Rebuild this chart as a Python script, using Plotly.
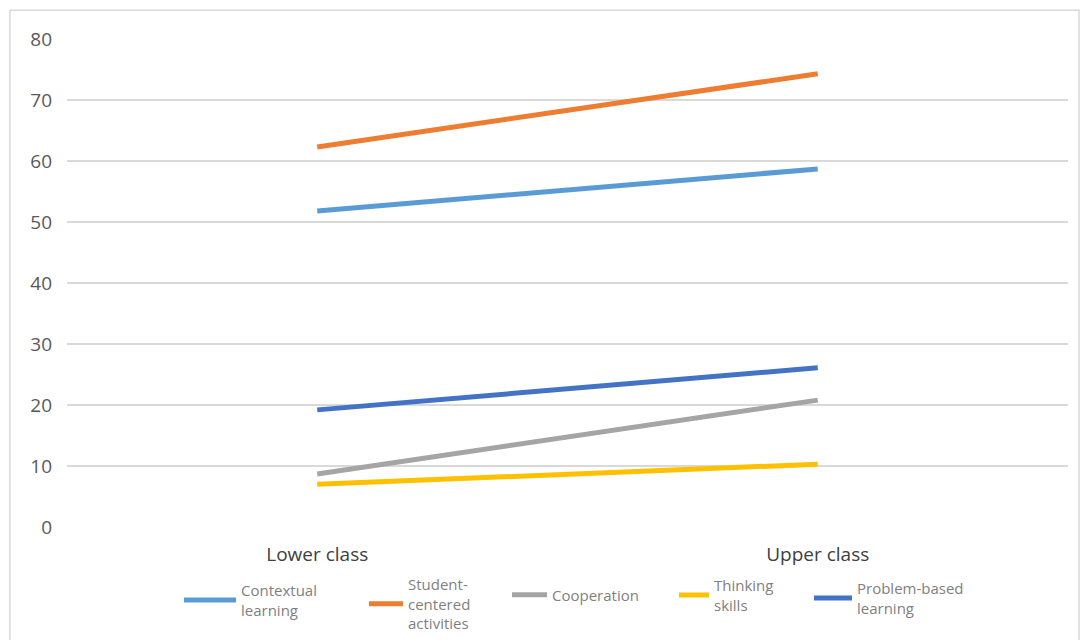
import plotly.graph_objects as go

categories = ["Lower class", "Upper class"]
series_names = ["Contextual<br>learning", "Student-<br>centered<br>activities", "Cooperation", "Thinking<br>skills", "Problem-based<br>learning"]
contextual = [51.8, 58.7]
student_centered = [62.3, 74.3]
cooperation = [8.7, 20.8]
thinking = [7.0, 10.3]
problem_based = [19.2, 26.1]
y_ticks = [0, 10, 20, 30, 40, 50, 60, 70, 80]

colors = ["#5B9BD5", "#ED7D31", "#A5A5A5", "#FFC000", "#4472C4"]
all_series = [contextual, student_centered, cooperation, thinking, problem_based]

# legend sample start / length and text vertical centres (pixels in the 1083x640 page)
legend_line_x = [177, 362, 505, 672, 807]
legend_line_len = [52, 34, 35, 30, 38]
legend_text_y = [600, 604, 595, 595, 598]

W, H = 1083, 640
fig = go.Figure()
layout_legends = {}
for i, (name, vals, c) in enumerate(zip(series_names, all_series, colors)):
    key = "legend" if i == 0 else f"legend{i+1}"
    fig.add_trace(go.Scatter(x=categories, y=vals, mode="lines", name=name,
                             line=dict(color=c, width=5), legend=key))
    layout_legends[key] = dict(
        xref="container", yref="container",
        x=(legend_line_x[i] + 2) / W, xanchor="left",
        y=1 - legend_text_y[i] / H, yanchor="middle",
        font=dict(size=15, color="#7F7F7F", family="Open Sans"),
        bgcolor="rgba(0,0,0,0)", borderwidth=0,
        itemwidth=max(30, legend_line_len[i]),
    )

fig.update_layout(
    width=W, height=H,
    margin=dict(l=67, r=15, t=39, b=113, autoexpand=False),
    plot_bgcolor="white", paper_bgcolor="white",
    font=dict(family="Open Sans", color="#595959"),
    showlegend=True,
    xaxis=dict(range=[-0.5, 1.5], showgrid=False, showline=False, zeroline=False,
               tickfont=dict(size=19, color="#404040"), ticklabelstandoff=14),
    yaxis=dict(range=[0, 80], tickvals=y_ticks, showgrid=True, gridcolor="#D9D9D9",
               gridwidth=1.5, zeroline=False, showline=False,
               tickfont=dict(size=19, color="#595959"), ticklabelstandoff=14),
    shapes=[dict(type="rect", xref="paper", yref="paper", x0=-0.057, x1=1.011,
                 y0=-0.3, y1=1.059, line=dict(color="#D9D9D9", width=1.5),
                 fillcolor="rgba(0,0,0,0)", layer="below")],
    **layout_legends,
)

fig.write_html("out.html")
